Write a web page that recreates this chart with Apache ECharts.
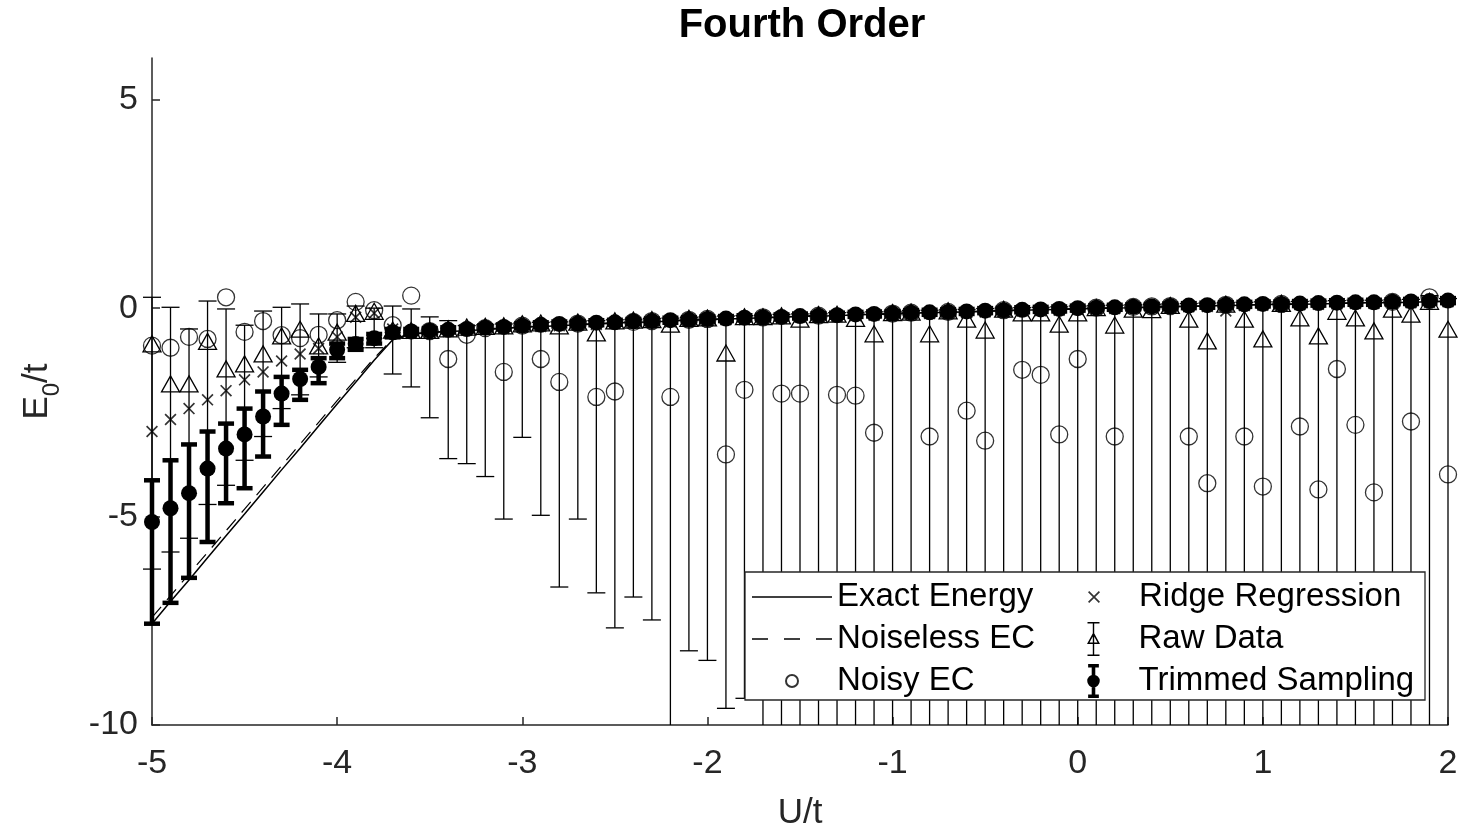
<!DOCTYPE html>
<html><head><meta charset="utf-8">
<script src="https://cdn.jsdelivr.net/npm/echarts@6/dist/echarts.min.js"></script>
<style>html,body{margin:0;padding:0;background:#fff}#c{width:1484px;height:832px}</style>
</head><body><div id="c"></div>
<script>
const xs = [-5,-4.9,-4.8,-4.7,-4.6,-4.5,-4.4,-4.3,-4.2,-4.1,-4,-3.9,-3.8,-3.7,-3.6,-3.5,-3.4,-3.3,-3.2,-3.1,-3,-2.9,-2.8,-2.7,-2.6,-2.5,-2.4,-2.3,-2.2,-2.1,-2,-1.9,-1.8,-1.7,-1.6,-1.5,-1.4,-1.3,-1.2,-1.1,-1,-0.9,-0.8,-0.7,-0.6,-0.5,-0.4,-0.3,-0.2,-0.1,0,0.1,0.2,0.3,0.4,0.5,0.6,0.7,0.8,0.9,1,1.1,1.2,1.3,1.4,1.5,1.6,1.7,1.8,1.9,2];

const exactEnergy = [-7.57,-7.04,-6.52,-5.99,-5.46,-4.94,-4.41,-3.88,-3.36,-2.83,-2.30,-1.78,-1.25,-0.76,
-0.62,-0.59,-0.56,-0.54,-0.51,-0.49,-0.46,-0.44,-0.42,-0.40,-0.38,-0.36,-0.34,-0.33,-0.31,-0.29,-0.28,-0.26,-0.25,-0.23,-0.22,-0.20,-0.19,-0.18,-0.16,-0.15,-0.14,-0.12,-0.11,-0.10,-0.09,-0.08,-0.06,-0.05,-0.04,-0.03,-0.02,-0.01,0.00,0.01,0.02,0.03,0.04,0.05,0.06,0.07,0.08,0.09,0.09,0.10,0.11,0.12,0.13,0.13,0.14,0.15,0.16];

const noiselessEC = [-7.42,-6.90,-6.38,-5.86,-5.34,-4.82,-4.30,-3.78,-3.26,-2.74,-2.22,-1.71,-1.20,-0.74,
-0.61,-0.58,-0.55,-0.53,-0.50,-0.48,-0.45,-0.43,-0.41,-0.39,-0.37,-0.35,-0.33,-0.32,-0.30,-0.28,-0.27,-0.25,-0.24,-0.22,-0.21,-0.19,-0.18,-0.17,-0.15,-0.14,-0.13,-0.11,-0.10,-0.09,-0.08,-0.07,-0.05,-0.04,-0.03,-0.02,-0.01,0.00,0.01,0.02,0.03,0.04,0.05,0.06,0.07,0.08,0.09,0.10,0.10,0.11,0.12,0.13,0.14,0.14,0.15,0.16,0.17];

const noisyEC = [-0.90,-0.95,-0.69,-0.74,0.26,-0.57,-0.31,-0.65,-0.72,-0.64,-0.29,0.15,-0.05,-0.41,
0.30,-0.55,-1.22,-0.64,-0.48,-1.53,-0.42,-1.22,-1.77,-0.37,-2.13,-2.00,-0.33,-0.31,-2.13,-0.28,-0.26,-3.51,-1.96,-0.22,-2.05,-2.05,-0.18,-2.08,-2.10,-2.99,-0.13,-0.11,-3.08,-0.09,-2.46,-3.18,-0.05,-1.48,-1.60,-3.03,-1.22,0.01,-3.08,0.03,0.04,0.05,-3.08,-4.20,0.08,-3.08,-4.28,0.10,-2.84,-4.35,-1.46,-2.80,-4.42,0.15,-2.72,0.26,-3.99];

const ridgeRegression = [-2.96,-2.67,-2.41,-2.20,-1.98,-1.72,-1.53,-1.27,-1.10,-0.97,-0.69,-0.22,-0.12,-0.50,
-0.60,-0.58,-0.56,-0.53,-0.51,-0.49,-0.46,-0.44,-0.42,-0.40,-0.39,-0.37,-0.36,-0.34,-0.33,-0.31,-0.30,-0.28,-0.27,-0.25,-0.24,-0.22,-0.21,-0.20,-0.18,-0.17,-0.16,-0.14,-0.13,-0.12,-0.11,-0.09,-0.08,-0.07,-0.06,-0.05,-0.03,-0.02,-0.01,0.00,0.01,0.02,0.03,0.04,-0.07,0.06,0.07,0.07,0.08,0.09,0.10,0.11,0.11,0.12,0.13,0.14,0.15];

const rawData = [-0.88,-1.84,-1.84,-0.82,-1.48,-1.36,-1.12,-0.69,-0.53,-0.93,-0.60,-0.15,-0.10,-0.55,
-0.56,-0.56,-0.52,-0.48,-0.46,-0.45,-0.40,-0.38,-0.45,-0.36,-0.62,-0.33,-0.31,-0.30,-0.41,-0.27,-0.26,-1.10,-0.23,-0.23,-0.21,-0.29,-0.18,-0.17,-0.27,-0.64,-0.13,-0.12,-0.64,-0.09,-0.29,-0.55,-0.05,-0.14,-0.14,-0.41,-0.14,-0.01,-0.43,-0.05,-0.06,0.04,-0.29,-0.81,0.07,-0.29,-0.76,0.09,-0.26,-0.69,-0.10,-0.26,-0.57,-0.05,-0.17,0.14,-0.53];

const rawHigh = [0.26,0.02,-0.50,0.17,-0.02,-0.41,-0.07,0.02,0.10,-0.14,-0.14,0.05,0.00,0.05,-0.02,-0.21,-0.30,
-0.42,-0.40,-0.38,-0.36,-0.34,-0.33,-0.31,-0.30,-0.28,-0.27,-0.25,-0.24,-0.22,-0.21,-0.19,-0.18,-0.17,-0.15,-0.14,-0.13,-0.11,-0.10,-0.09,-0.08,-0.06,-0.05,-0.04,-0.03,-0.01,0.00,0.01,0.02,0.03,0.05,0.06,0.07,0.08,0.09,0.10,0.11,0.12,0.13,0.14,0.15,0.15,0.16,0.17,0.18,0.19,0.19,0.20,0.21,0.30,0.23];

const rawLow = [-6.26,-5.85,-5.52,-4.71,-4.25,-3.65,-3.08,-2.41,-2.08,-1.65,-1.30,-0.95,-0.95,-1.58,-1.89,-2.63,-3.61,-3.73,-4.04,-5.06,-3.10,-4.97,-6.69,-5.06,-6.83,-7.67,-6.93,-7.48,-12,-8.22,-8.45,-9.60,-9.36,
-12,-12,-12,-12,-12,-12,-12,-12,-12,-12,-12,-12,-12,-12,-12,-12,-12,-12,-12,-12,-12,-12,-12,-12,-12,-12,-12,-12,-12,-12,-12,-12,-12,-12,-12,-12,-12,-12];

const trimmed = [-5.13,-4.80,-4.44,-3.85,-3.37,-3.03,-2.60,-2.05,-1.70,-1.41,-1.00,-0.86,-0.72,-0.58,
-0.56,-0.54,-0.52,-0.50,-0.47,-0.45,-0.42,-0.40,-0.38,-0.37,-0.35,-0.34,-0.32,-0.31,-0.29,-0.28,-0.26,-0.25,-0.23,-0.22,-0.21,-0.19,-0.18,-0.17,-0.15,-0.14,-0.13,-0.11,-0.10,-0.09,-0.08,-0.06,-0.05,-0.04,-0.03,-0.02,0.00,0.01,0.02,0.03,0.04,0.05,0.06,0.07,0.08,0.09,0.10,0.10,0.11,0.12,0.13,0.14,0.14,0.15,0.16,0.17,0.18];

const trimHigh = [-4.13,-3.65,-3.27,-2.96,-2.77,-2.41,-2.00,-1.65,-1.48,-1.20,-0.85,-0.74,-0.62,-0.50,
-0.50,-0.48,-0.46,-0.44,-0.41,-0.39,-0.36,-0.34,-0.32,-0.31,-0.29,-0.28,-0.26,-0.25,-0.23,-0.22,-0.20,-0.19,-0.17,-0.16,-0.15,-0.13,-0.12,-0.11,-0.09,-0.08,-0.07,-0.05,-0.04,-0.03,-0.02,0.00,0.01,0.02,0.03,0.04,0.06,0.07,0.08,0.09,0.10,0.11,0.12,0.13,0.14,0.15,0.16,0.16,0.17,0.18,0.19,0.20,0.20,0.21,0.22,0.23,0.24];

const trimLow = [-7.57,-7.07,-6.47,-5.61,-4.68,-4.32,-3.56,-2.80,-2.20,-1.80,-1.20,-1.00,-0.85,-0.70,
-0.62,-0.60,-0.58,-0.56,-0.53,-0.51,-0.48,-0.46,-0.44,-0.43,-0.41,-0.40,-0.38,-0.37,-0.35,-0.34,-0.32,-0.31,-0.29,-0.28,-0.27,-0.25,-0.24,-0.23,-0.21,-0.20,-0.19,-0.17,-0.16,-0.15,-0.14,-0.12,-0.11,-0.10,-0.09,-0.08,-0.06,-0.05,-0.04,-0.03,-0.02,-0.01,0.00,0.01,0.02,0.03,0.04,0.04,0.05,0.06,0.07,0.08,0.08,0.09,0.10,0.11,0.12];

const xTicks = [-5,-4,-3,-2,-1,0,1,2];
const yTicks = [-10,-5,0,5];

const FONT = 'Liberation Sans, Arial, Helvetica, sans-serif';
const INK = '#262626';
const xPath = 'path://M0,1L1,0L10,9L9,10Z M9,0L10,1L1,10L0,9Z';
const solidIcon = 'path://M0,0L80,0L80,1.5L0,1.5Z';
const dashIcon = 'path://M0,0L16,0L16,1.3L0,1.3Z M32,0L48,0L48,1.3L32,1.3Z M64,0L80,0L80,1.3L64,1.3Z';
const rawIcon = 'path://M4,0L16,0L16,1.6L4,1.6Z M9.3,0L10.7,0L10.7,34L9.3,34Z M4,32.4L16,32.4L16,34L4,34Z M10,10L16.5,22L3.5,22Z M10,13.2L6,20.6L14,20.6Z';
const trimIcon = 'path://M3,0L15,0L15,4L3,4Z M7,0L11,0L11,38L7,38Z M3,34L15,34L15,38L3,38Z M2,19A7,7 0 1,1 16,19A7,7 0 1,1 2,19Z';

function pairs(arr){ return xs.map((x,i)=>[x, arr[i]]); }
function rows(mid, lo, hi){ return xs.map((x,i)=>[x, mid[i], lo[i], hi[i]]); }

function clampY(v, cs){ return Math.max(cs.y, Math.min(cs.y + cs.height, v)); }
function inY(v, cs){ return v >= cs.y - 0.5 && v <= cs.y + cs.height + 0.5; }

function renderRaw(params, api){
  const cs = params.coordSys;
  const x = api.value(0), y = api.value(1), lo = api.value(2), hi = api.value(3);
  const p = api.coord([x, y]);
  const pH = api.coord([x, hi])[1], pL = api.coord([x, lo])[1];
  const st = {stroke:'#000', lineWidth:1.3, fill:'none'};
  const ch = [{type:'line', shape:{x1:p[0], y1:clampY(pH,cs), x2:p[0], y2:clampY(pL,cs)}, style:st}];
  if (inY(pH, cs)) ch.push({type:'line', shape:{x1:p[0]-9, y1:pH, x2:p[0]+9, y2:pH}, style:st});
  if (inY(pL, cs)) ch.push({type:'line', shape:{x1:p[0]-9, y1:pL, x2:p[0]+9, y2:pL}, style:st});
  ch.push({type:'polygon', shape:{points:[[p[0], p[1]-9],[p[0]+9, p[1]+7],[p[0]-9, p[1]+7]]}, style:{stroke:'#000', lineWidth:1.3, fill:'none'}});
  return {type:'group', children:ch};
}
function renderTrim(params, api){
  const x = api.value(0), y = api.value(1), lo = api.value(2), hi = api.value(3);
  const p = api.coord([x, y]);
  const pH = api.coord([x, hi])[1], pL = api.coord([x, lo])[1];
  const st = {stroke:'#000', lineWidth:4.5};
  return {type:'group', children:[
    {type:'line', shape:{x1:p[0], y1:pH, x2:p[0], y2:pL}, style:st},
    {type:'line', shape:{x1:p[0]-8, y1:pH, x2:p[0]+8, y2:pH}, style:st},
    {type:'line', shape:{x1:p[0]-8, y1:pL, x2:p[0]+8, y2:pL}, style:st},
    {type:'circle', shape:{cx:p[0], cy:p[1], r:8}, style:{fill:'#000'}}
  ]};
}

const legendText = {fontSize:33, fontFamily:FONT, color:'#000', lineHeight:42};
const chart = echarts.init(document.getElementById('c'), null, {renderer:'canvas'});
chart.setOption({
  backgroundColor:'#fff',
  animation:false,
  title:{text:'Fourth Order', left:797, top:1, textAlign:'center',
    textStyle:{fontSize:40, fontWeight:'bold', fontFamily:FONT, color:'#000'}},
  grid:{left:152, right:36, top:58, bottom:107, outerBoundsMode:'none', containLabel:false},
  xAxis:{type:'value', min:-5, max:2, interval:1,
    name:'U/t', nameLocation:'middle', nameGap:71,
    nameTextStyle:{fontSize:35, fontFamily:FONT, color:INK},
    axisLine:{onZero:false, lineStyle:{color:INK, width:1.5}},
    axisTick:{inside:true, length:8, lineStyle:{color:INK, width:1.5}},
    axisLabel:{fontSize:34, fontFamily:FONT, color:INK, margin:22},
    splitLine:{show:false}},
  yAxis:{type:'value', min:-10, max:6, interval:5,
    name:'{e|E}{s|0}{e|/t}', nameLocation:'middle', nameGap:92, nameRotate:90,
    nameTextStyle:{color:INK, rich:{
      e:{fontSize:35, fontFamily:FONT, color:INK, lineHeight:40, verticalAlign:'top'},
      s:{fontSize:24, fontFamily:FONT, color:INK, lineHeight:24, padding:[20,0,0,0], verticalAlign:'top'}}},
    axisLine:{onZero:false, lineStyle:{color:INK, width:1.5}},
    axisTick:{inside:true, length:8, lineStyle:{color:INK, width:1.5}, customValues:yTicks},
    axisLabel:{fontSize:34, fontFamily:FONT, color:INK, margin:14, customValues:yTicks},
    splitLine:{show:false}},
  legend:[
    {orient:'vertical', left:752, top:576, itemWidth:80, itemHeight:12, itemGap:0, padding:0, z:20,
     selectedMode:false, textStyle:legendText,
     data:[{name:'Exact Energy', icon:solidIcon},{name:'Noiseless EC', icon:dashIcon},{name:'Noisy EC'}]},
    {orient:'vertical', left:1088, top:576, itemWidth:80, itemHeight:12, itemGap:0, padding:0, z:20,
     selectedMode:false, textStyle:legendText,
     data:[{name:'Ridge Regression', icon:xPath}]},
    {orient:'vertical', left:1087, top:618, itemWidth:80, itemHeight:34, itemGap:0, padding:0, z:20,
     selectedMode:false, textStyle:legendText,
     data:[{name:'Raw Data', icon:rawIcon},{name:'Trimmed Sampling', icon:trimIcon}]}
  ],
  graphic:[{type:'rect', x:745, y:572, z:15, shape:{x:0, y:0, width:680, height:128},
    style:{fill:'#fff', stroke:INK, lineWidth:1.3}}],
  series:[
    {name:'Exact Energy', type:'line', data:pairs(exactEnergy), symbol:'none',
     lineStyle:{color:'#000', width:1.5}, itemStyle:{color:'#000'}},
    {name:'Noiseless EC', type:'line', data:pairs(noiselessEC), symbol:'none',
     lineStyle:{color:'#000', width:1.2, type:[14,9]}, itemStyle:{color:'#000'}},
    {name:'Noisy EC', type:'scatter', data:pairs(noisyEC), symbol:'circle', symbolSize:17,
     itemStyle:{color:'rgba(0,0,0,0)', borderColor:'#000', borderWidth:1.3}},
    {name:'Ridge Regression', type:'scatter', data:pairs(ridgeRegression), symbol:xPath, symbolSize:12,
     itemStyle:{color:'#000'}},
    {name:'Raw Data', type:'custom', data:rows(rawData, rawLow, rawHigh),
     encode:{x:0, y:[1,2,3]}, renderItem:renderRaw, itemStyle:{color:'#000'}},
    {name:'Trimmed Sampling', type:'custom', data:rows(trimmed, trimLow, trimHigh),
     encode:{x:0, y:[1,2,3]}, renderItem:renderTrim, itemStyle:{color:'#000'}}
  ]
});
</script></body></html>
